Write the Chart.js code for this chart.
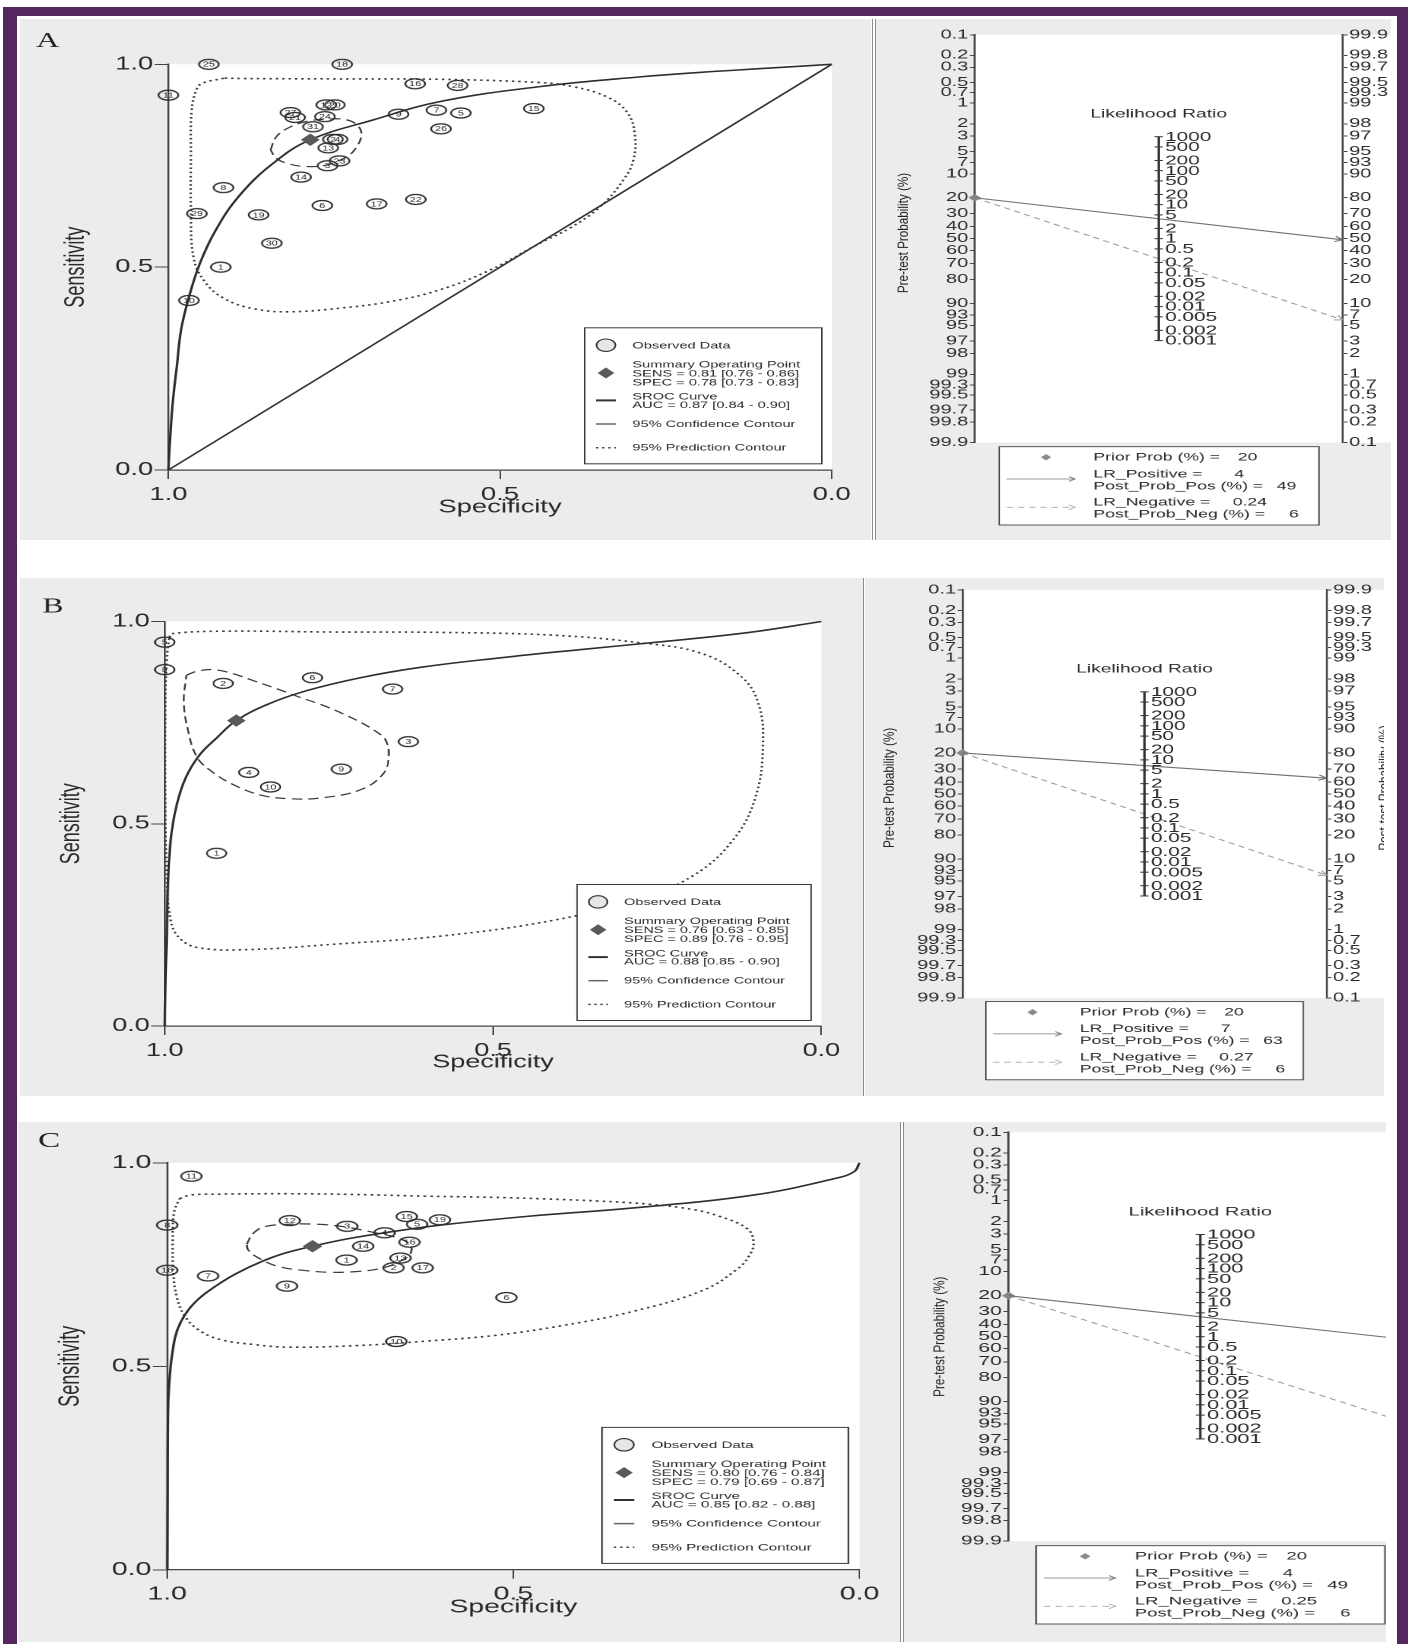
<!DOCTYPE html>
<html>
<head>
<meta charset="utf-8">
<title>SROC curves and Fagan nomograms</title>
<script src="https://cdn.jsdelivr.net/npm/chart.js@4.4.1/dist/chart.umd.min.js"></script>
<style>
html,body{margin:0;padding:0;background:#fff;}
#page{position:relative;width:1408px;height:1644px;overflow:hidden;background:#fff;}
.band{position:absolute;background:#56275f;}
.panel{position:absolute;background:#ebeded;overflow:hidden;}
.panel canvas{position:absolute;left:0;top:0;transform-origin:0 0;}
.sep{position:absolute;width:1px;background:#8c8c8c;}
</style>
</head>
<body>
<div id="page">
  <div class="band" style="left:3px;top:7px;width:1405px;height:9px"></div>
  <div class="band" style="left:3px;top:7px;width:14px;height:1637px"></div>
  <div class="band" style="left:1397px;top:7px;width:11px;height:1637px"></div>
</div>
<script>
// ================= DATA =================
const srocTicks = [0, 0.5, 1];

// Panel A
const aLabels = [1,2,3,4,5,6,7,8,9,10,11,12,13,14,15,16,17,18,19,20,21,22,23,24,25,26,27,28,29,30,31];
const aSpec = [0.921,0.752,0.760,0.745,0.559,0.768,0.596,0.917,0.653,0.969,1.000,0.762,0.759,0.800,0.449,0.628,0.686,0.738,0.864,0.749,0.809,0.627,0.742,0.764,0.939,0.589,0.816,0.564,0.957,0.844,0.782];
const aSens = [0.500,0.815,0.750,0.815,0.880,0.652,0.887,0.696,0.877,0.418,0.924,0.900,0.794,0.722,0.891,0.952,0.656,1.000,0.629,0.900,0.869,0.667,0.762,0.871,1.000,0.841,0.881,0.948,0.632,0.559,0.846];
const aSummary = [0.786, 0.814];
const aCurveSpec = [1.0,0.997,0.993,0.987,0.981,0.970,0.953,0.928,0.892,0.842,0.786,0.691,0.591,0.440,0.289,0.199,0.100,0.0];
const aCurveSens = [0.0,0.087,0.173,0.259,0.344,0.420,0.507,0.593,0.678,0.756,0.814,0.863,0.908,0.945,0.969,0.980,0.990,1.0];
const aConfSpec = [0.846,0.837,0.817,0.792,0.761,0.731,0.714,0.709,0.716,0.731,0.761,0.792,0.817,0.837,0.846];
const aConfSens = [0.789,0.822,0.845,0.859,0.865,0.863,0.848,0.826,0.797,0.772,0.752,0.748,0.754,0.768,0.789];
const aPredSpec = [0.915,0.892,0.750,0.591,0.440,0.390,0.339,0.309,0.297,0.299,0.314,0.349,0.395,0.440,0.515,0.591,0.666,0.741,0.817,0.870,0.915,0.945,0.962,0.966,0.966,0.965,0.958,0.949,0.915];
const aPredSens = [0.966,0.965,0.964,0.963,0.955,0.945,0.920,0.883,0.830,0.764,0.715,0.649,0.596,0.559,0.493,0.444,0.415,0.399,0.390,0.397,0.422,0.464,0.524,0.645,0.773,0.884,0.936,0.953,0.966];
const aDiagSpec = [1, 0];
const aDiagSens = [0, 1];
const aLegend = ['SENS = 0.81 [0.76 - 0.86]', 'SPEC = 0.78 [0.73 - 0.83]', 'AUC = 0.87 [0.84 - 0.90]'];

// Panel B
const bLabels = [1,2,3,4,5,6,7,8,9,10];
const bSpec = [0.921,0.911,0.629,0.872,1.000,0.775,0.653,1.000,0.731,0.839];
const bSens = [0.427,0.847,0.703,0.627,0.949,0.861,0.833,0.881,0.635,0.591];
const bSummary = [0.891, 0.755];
const bCurveSpec = [1.0,0.999,0.997,0.995,0.991,0.982,0.968,0.947,0.921,0.891,0.845,0.786,0.702,0.609,0.490,0.364,0.237,0.110,0.0];
const bCurveSens = [0.0,0.090,0.219,0.348,0.459,0.545,0.614,0.670,0.712,0.755,0.794,0.828,0.861,0.887,0.910,0.931,0.951,0.973,1.0];
const bConfSpec = [0.967,0.951,0.926,0.896,0.862,0.828,0.795,0.761,0.730,0.702,0.680,0.664,0.659,0.668,0.702,0.761,0.811,0.854,0.896,0.930,0.951,0.965,0.971,0.967];
const bConfSens = [0.867,0.877,0.881,0.871,0.852,0.833,0.813,0.794,0.773,0.751,0.730,0.708,0.665,0.622,0.584,0.564,0.562,0.571,0.597,0.631,0.665,0.734,0.803,0.867];
const bPredSpec = [0.993,0.989,0.913,0.744,0.575,0.406,0.279,0.186,0.127,0.097,0.089,0.101,0.135,0.194,0.279,0.406,0.575,0.744,0.871,0.947,0.976,0.991,0.997,0.999,0.999,0.997,0.993];
const bPredSens = [0.961,0.970,0.976,0.974,0.973,0.966,0.948,0.923,0.871,0.803,0.691,0.562,0.459,0.373,0.313,0.262,0.223,0.202,0.189,0.193,0.215,0.262,0.391,0.562,0.777,0.906,0.961];
const bLegend = ['SENS = 0.76 [0.63 - 0.85]', 'SPEC = 0.89 [0.76 - 0.95]', 'AUC = 0.88 [0.85 - 0.90]'];

// Panel C
const cLabels = [1,2,3,4,5,6,7,8,9,10,11,12,13,14,15,16,17,18,19];
const cSpec = [0.741,0.673,0.740,0.686,0.639,0.510,0.941,1.000,0.827,0.669,0.965,0.823,0.663,0.717,0.654,0.650,0.631,1.000,0.606];
const cSens = [0.761,0.742,0.844,0.828,0.849,0.669,0.722,0.847,0.697,0.561,0.967,0.858,0.766,0.795,0.868,0.805,0.742,0.736,0.860];
const cSummary = [0.790, 0.795];
const cCurveSpec = [1.0,0.9995,0.999,0.997,0.993,0.986,0.973,0.955,0.930,0.900,0.864,0.830,0.790,0.740,0.686,0.605,0.476,0.327,0.152,0.034,0.008,0.0];
const cCurveSens = [0.0,0.200,0.377,0.460,0.527,0.586,0.630,0.665,0.697,0.728,0.757,0.778,0.795,0.813,0.828,0.847,0.869,0.889,0.921,0.962,0.978,1.0];
const cConfSpec = [0.885,0.876,0.859,0.824,0.784,0.745,0.705,0.670,0.650,0.648,0.660,0.690,0.725,0.764,0.799,0.839,0.869,0.883,0.885];
const cConfSens = [0.800,0.826,0.843,0.849,0.849,0.843,0.830,0.817,0.800,0.779,0.761,0.741,0.733,0.731,0.735,0.745,0.767,0.786,0.800];
const cPredSpec = [0.982,0.965,0.924,0.825,0.725,0.626,0.526,0.450,0.377,0.302,0.240,0.203,0.163,0.153,0.160,0.178,0.227,0.327,0.426,0.526,0.625,0.725,0.824,0.872,0.924,0.955,0.975,0.986,0.991,0.992,0.990,0.982];
const cPredSens = [0.912,0.921,0.923,0.924,0.922,0.918,0.915,0.911,0.906,0.898,0.885,0.869,0.839,0.805,0.770,0.737,0.686,0.635,0.601,0.576,0.562,0.551,0.547,0.553,0.566,0.590,0.625,0.670,0.728,0.812,0.879,0.912];
const cLegend = ['SENS = 0.80 [0.76 - 0.84]', 'SPEC = 0.79 [0.69 - 0.87]', 'AUC = 0.85 [0.82 - 0.88]'];

// Fagan nomograms (A, B, C)
const pretestTicks = [0.1,0.2,0.3,0.5,0.7,1,2,3,5,7,10,20,30,40,50,60,70,80,90,93,95,97,98,99,99.3,99.5,99.7,99.8,99.9];
const posttestTicks = [99.9,99.8,99.7,99.5,99.3,99,98,97,95,93,90,80,70,60,50,40,30,20,10,7,5,3,2,1,0.7,0.5,0.3,0.2,0.1];
const lrTicks = [1000,500,200,100,50,20,10,5,2,1,0.5,0.2,0.1,0.05,0.02,0.01,0.005,0.002,0.001];
const priorProb = [20, 20, 20];
const lrPositive = [4, 7, 4];
const postProbPos = [49, 63, 49];
const lrNegative = [0.24, 0.27, 0.25];
const postProbNeg = [6, 6, 6];

// ================= RENDERING =================
const FONT = '"Liberation Sans", Arial, Helvetica, sans-serif';
Chart.defaults.font.family = FONT;
Chart.defaults.color = '#333';
const logit = p => Math.log(p / (1 - p));
const LMAX = logit(0.999);

const page = document.getElementById('page');
function addPanel(P) {
  const d = document.createElement('div');
  d.className = 'panel';
  Object.assign(d.style, {left: P.x + 'px', top: P.y + 'px', width: P.w + 'px', height: P.h + 'px'});
  const c = document.createElement('canvas');
  c.width = P.cw; c.height = P.h;
  c.style.transform = 'scaleX(' + P.s + ')';
  d.appendChild(c);
  page.appendChild(d);
  return c;
}
function addSep(x, y, h) {
  const d = document.createElement('div');
  d.className = 'sep';
  Object.assign(d.style, {left: x + 'px', top: y + 'px', height: h + 'px'});
  page.appendChild(d);
}

// hollow elliptical study marker, drawn at 2x for a sharp image
const mc = document.createElement('canvas');
mc.width = 30; mc.height = 24;
(function () {
  const g = mc.getContext('2d');
  g.strokeStyle = '#2a2a2a'; g.lineWidth = 2.4;
  g.beginPath(); g.ellipse(15, 12, 13, 10, 0, 0, 2 * Math.PI); g.stroke();
})();
const marker = new Image(15, 12);

function srocLegend(ctx, x, y, t) {
  const w = 156, h = 136;
  ctx.save();
  ctx.fillStyle = '#fff'; ctx.fillRect(x, y, w, h);
  ctx.strokeStyle = '#3a3a3a'; ctx.lineWidth = 1; ctx.strokeRect(x, y, w, h);
  const mx = x + 14, tx = x + 31.4;
  ctx.beginPath(); ctx.arc(mx, y + 17.4, 6.2, 0, 2 * Math.PI);
  ctx.fillStyle = '#e6e6e6'; ctx.fill(); ctx.strokeStyle = '#333'; ctx.lineWidth = 1.1; ctx.stroke();
  const dy = y + 45.2;
  ctx.beginPath(); ctx.moveTo(mx, dy - 5.5); ctx.lineTo(mx + 5.5, dy); ctx.lineTo(mx, dy + 5.5); ctx.lineTo(mx - 5.5, dy); ctx.closePath();
  ctx.fillStyle = '#5a5a5a'; ctx.fill();
  ctx.lineWidth = 2; ctx.strokeStyle = '#333';
  ctx.beginPath(); ctx.moveTo(mx - 6.5, y + 72.6); ctx.lineTo(mx + 6.5, y + 72.6); ctx.stroke();
  ctx.lineWidth = 1.5; ctx.strokeStyle = '#666';
  ctx.beginPath(); ctx.moveTo(mx - 6.5, y + 96.2); ctx.lineTo(mx + 6.5, y + 96.2); ctx.stroke();
  ctx.setLineDash([1.5, 2.5]); ctx.strokeStyle = '#444';
  ctx.beginPath(); ctx.moveTo(mx - 6.5, y + 119.9); ctx.lineTo(mx + 6.5, y + 119.9); ctx.stroke();
  ctx.setLineDash([]);
  ctx.font = '9.6px ' + FONT; ctx.fillStyle = '#2a2a2a'; ctx.textAlign = 'left'; ctx.textBaseline = 'middle';
  ctx.fillText('Observed Data', tx, y + 17.9);
  ctx.fillText('Summary Operating Point', tx, y + 36.8);
  ctx.fillText(t[0], tx, y + 45.8);
  ctx.fillText(t[1], tx, y + 54.8);
  ctx.fillText('SROC Curve', tx, y + 69.1);
  ctx.fillText(t[2], tx, y + 77.5);
  ctx.fillText('95% Confidence Contour', tx, y + 96.5);
  ctx.fillText('95% Prediction Contour', tx, y + 120.2);
  ctx.restore();
}

const srocPlugin = {
  id: 'sroc',
  beforeDraw(chart) {
    const a = chart.chartArea, ctx = chart.ctx;
    ctx.save(); ctx.fillStyle = '#fff'; ctx.fillRect(a.left, a.top, a.right - a.left, a.bottom - a.top); ctx.restore();
  },
  afterDatasetsDraw(chart, args, o) {
    const ctx = chart.ctx, meta = chart.getDatasetMeta(0);
    ctx.save();
    ctx.font = '7px ' + FONT; ctx.fillStyle = '#2a2a2a'; ctx.textAlign = 'center'; ctx.textBaseline = 'middle';
    meta.data.forEach((el, i) => ctx.fillText(String(o.labels[i]), el.x, el.y + 0.5));
    ctx.restore();
  },
  afterDraw(chart, args, o) {
    const ctx = chart.ctx;
    srocLegend(ctx, o.legend[0], o.legend[1], o.legendText);
    ctx.save();
    ctx.font = '21px "Liberation Serif", "Times New Roman", serif';
    ctx.fillStyle = '#222'; ctx.textAlign = 'center'; ctx.textBaseline = 'middle';
    ctx.fillText(o.letter[0], o.letter[1], o.letter[2]);
    ctx.restore();
  }
};

function pts(xs, ys) { return xs.map((v, i) => ({x: v, y: ys[i]})); }

function srocChart(P, D) {
  const canvas = addPanel(P);
  const ds = [
    {data: pts(D.spec, D.sens), pointStyle: marker, pointRadius: 6, showLine: false, clip: false},
    {data: [{x: D.summary[0], y: D.summary[1]}], pointStyle: 'rectRot', pointRadius: 5.5, backgroundColor: '#5a5a5a', borderColor: '#5a5a5a', borderWidth: 1, clip: false},
    {data: pts(D.curveSpec, D.curveSens), showLine: true, pointRadius: 0, borderColor: '#2e2e2e', borderWidth: 1.6, tension: 0.4, clip: false},
    {data: pts(D.confSpec, D.confSens), showLine: true, pointRadius: 0, borderColor: '#3c3c3c', borderWidth: 1.2, borderDash: [7, 4], tension: 0.4, clip: false},
    {data: pts(D.predSpec, D.predSens), showLine: true, pointRadius: 0, borderColor: '#3c3c3c', borderWidth: 1.6, borderDash: [1.6, 2.6], tension: 0.4, clip: false}
  ];
  if (D.diagSpec) ds.push({data: pts(D.diagSpec, D.diagSens), showLine: true, pointRadius: 0, borderColor: '#333', borderWidth: 1.4, clip: false});
  const axisCommon = {
    type: 'linear', min: 0, max: 1,
    afterBuildTicks: s => { s.ticks = srocTicks.map(v => ({value: v})); },
    grid: {display: true, drawOnChartArea: false, drawTicks: true, tickLength: 9, color: '#444', lineWidth: 1},
    border: {display: true, color: '#444', width: 1.2}
  };
  new Chart(canvas, {
    type: 'scatter',
    data: {datasets: ds},
    options: {
      responsive: false, animation: false, devicePixelRatio: 2, events: [],
      layout: {padding: P.pad},
      plugins: {legend: {display: false}, tooltip: {enabled: false},
        sroc: {labels: D.labels, legend: P.legend, legendText: D.legendText, letter: [P.letterText, P.letter[0], P.letter[1]]}},
      scales: {
        x: Object.assign({}, axisCommon, {
          reverse: true, position: 'bottom',
          ticks: {callback: v => Number(v).toFixed(1), font: {size: 18}, color: '#2a2a2a', padding: 5, maxRotation: 0, autoSkip: false},
          title: {display: true, text: 'Specificity', font: {size: 18}, color: '#2a2a2a', padding: 0},
          afterFit: s => { s.height = P.xH; }
        }),
        y: Object.assign({}, axisCommon, {
          position: 'left',
          ticks: {callback: v => Number(v).toFixed(1), font: {size: 18}, color: '#2a2a2a', padding: 1, autoSkip: false},
          title: {display: true, text: 'Sensitivity', font: {size: 18}, color: '#2a2a2a', padding: 0},
          afterFit: s => { s.width = P.yW; }
        })
      }
    },
    plugins: [srocPlugin]
  });
}

function rotatedText(ctx, text, x, y, size, stretch) {
  ctx.save();
  ctx.translate(x, y); ctx.rotate(-Math.PI / 2); ctx.scale(stretch, 1);
  ctx.font = size + 'px ' + FONT; ctx.textAlign = 'center'; ctx.textBaseline = 'middle'; ctx.fillStyle = '#222';
  ctx.fillText(text, 0, 0);
  ctx.restore();
}
function chevron(ctx, x, y, ang, len, spread) {
  ctx.beginPath();
  ctx.moveTo(x - len * Math.cos(ang - spread), y - len * Math.sin(ang - spread));
  ctx.lineTo(x, y);
  ctx.lineTo(x - len * Math.cos(ang + spread), y - len * Math.sin(ang + spread));
  ctx.stroke();
}

const faganPlugin = {
  id: 'fagan',
  beforeDraw(chart) {
    const a = chart.chartArea, ctx = chart.ctx;
    ctx.save(); ctx.fillStyle = '#fff'; ctx.fillRect(a.left, a.top, chart.width - a.left, a.bottom - a.top); ctx.restore();
  },
  afterDatasetsDraw(chart, args, o) {
    if (o.noArrows) return;
    const ctx = chart.ctx;
    [0, 1].forEach(i => {
      const m = chart.getDatasetMeta(i), p0 = m.data[0], p1 = m.data[1];
      const ang = Math.atan2(p1.y - p0.y, p1.x - p0.x);
      ctx.save(); ctx.strokeStyle = chart.data.datasets[i].borderColor; ctx.lineWidth = 1; ctx.setLineDash([]);
      chevron(ctx, p1.x, p1.y, ang, 5.5, 0.5);
      ctx.restore();
    });
  },
  afterDraw(chart, args, o) {
    const ctx = chart.ctx, ys = chart.scales.y, xs = chart.scales.x;
    const cx = xs.getPixelForValue(0.5);
    const yTop = ys.getPixelForValue(Math.log(lrTicks[0]) / 2);
    const yBot = ys.getPixelForValue(Math.log(lrTicks[lrTicks.length - 1]) / 2);
    ctx.save();
    ctx.strokeStyle = '#333'; ctx.lineWidth = 1.5;
    ctx.beginPath(); ctx.moveTo(cx, yTop); ctx.lineTo(cx, yBot); ctx.stroke();
    ctx.lineWidth = 1;
    ctx.font = '13px ' + FONT; ctx.fillStyle = '#2a2a2a'; ctx.textAlign = 'left'; ctx.textBaseline = 'middle';
    lrTicks.forEach(v => {
      const y = ys.getPixelForValue(Math.log(v) / 2);
      ctx.beginPath(); ctx.moveTo(cx - 2.6, y); ctx.lineTo(cx + 2.6, y); ctx.stroke();
      ctx.fillText(String(v), cx + 4, y + 0.5);
    });
    ctx.font = '12px ' + FONT;
    ctx.textAlign = 'center';
    ctx.fillText('Likelihood Ratio', cx, yTop - 22.5);
    ctx.restore();
    rotatedText(ctx, 'Pre-test Probability (%)', o.preTitle[0], o.preTitle[1], 9, 1.3);
    if (o.postTitle) rotatedText(ctx, 'Post-test Probability (%)', o.postTitle[0], o.postTitle[1], 9, 1.3);
    // legend
    const [lx, ly, lw, lh] = o.legend;
    const k = o.k;
    ctx.save();
    ctx.fillStyle = '#fff'; ctx.fillRect(lx, ly, lw, lh);
    ctx.strokeStyle = '#444'; ctx.lineWidth = 0.9; ctx.strokeRect(lx, ly, lw, lh);
    const dx = lx + 29.2, dy = ly + 10.6;
    ctx.beginPath(); ctx.moveTo(dx, dy - 3.2); ctx.lineTo(dx + 3.2, dy); ctx.lineTo(dx, dy + 3.2); ctx.lineTo(dx - 3.2, dy); ctx.closePath();
    ctx.fillStyle = '#8a8a8a'; ctx.fill();
    ctx.lineWidth = 0.8; ctx.strokeStyle = '#777';
    ctx.beginPath(); ctx.moveTo(lx + 4.6, ly + 32.3); ctx.lineTo(lx + 47.3, ly + 32.3); ctx.stroke();
    chevron(ctx, lx + 47.3, ly + 32.3, 0, 4.5, 0.55);
    ctx.strokeStyle = '#aaa'; ctx.setLineDash([4, 3]);
    ctx.beginPath(); ctx.moveTo(lx + 4.6, ly + 60.6); ctx.lineTo(lx + 47.3, ly + 60.6); ctx.stroke();
    ctx.setLineDash([]);
    chevron(ctx, lx + 47.3, ly + 60.6, 0, 4.5, 0.55);
    ctx.font = '11px ' + FONT; ctx.fillStyle = '#2a2a2a'; ctx.textAlign = 'left'; ctx.textBaseline = 'middle';
    const tx = lx + 58.8;
    ctx.fillText('Prior Prob (%) =', tx, ly + 10.9); ctx.fillText(String(priorProb[k]), lx + 149, ly + 10.9);
    ctx.fillText('LR_Positive =', tx, ly + 27.6); ctx.fillText(String(lrPositive[k]), lx + 146.9, ly + 27.6);
    ctx.fillText('Post_Prob_Pos (%) =', tx, ly + 39.6); ctx.fillText(String(postProbPos[k]), lx + 173.4, ly + 39.6);
    ctx.fillText('LR_Negative =', tx, ly + 55.9); ctx.fillText(String(lrNegative[k]), lx + 145.9, ly + 55.9);
    ctx.fillText('Post_Prob_Neg (%) =', tx, ly + 67.9); ctx.fillText(String(postProbNeg[k]), lx + 181, ly + 67.9);
    ctx.restore();
  }
};

function faganChart(P, k) {
  const canvas = addPanel(P);
  const uPre = -logit(priorProb[k] / 100);
  const uPos = logit(postProbPos[k] / 100);
  const uNeg = logit(postProbNeg[k] / 100);
  const axis = (ticksArr, sign, pos, width) => ({
    type: 'linear', position: pos, min: -LMAX, max: LMAX,
    afterBuildTicks: s => { s.ticks = ticksArr.map(p => ({value: sign * logit(p / 100)})); },
    ticks: {autoSkip: false, callback: (v, i) => String(ticksArr[i]), font: {size: 12.5}, color: '#2a2a2a', padding: 1},
    grid: {display: true, drawOnChartArea: false, drawTicks: true, tickLength: 3, color: '#444', lineWidth: 1},
    border: {display: true, color: '#444', width: 1.3},
    afterFit: s => { s.width = width; }
  });
  new Chart(canvas, {
    type: 'scatter',
    data: {datasets: [
      {data: [{x: 0, y: uPre}, {x: 1, y: uPos}], showLine: true, pointRadius: 0, borderColor: '#707070', borderWidth: 1.1, clip: false},
      {data: [{x: 0, y: uPre}, {x: 1, y: uNeg}], showLine: true, pointRadius: 0, borderColor: '#9c9c9c', borderWidth: 1, borderDash: [4, 3], clip: false},
      {data: [{x: 0, y: uPre}], pointStyle: 'rectRot', pointRadius: 3.2, backgroundColor: '#888', borderColor: '#888', borderWidth: 1, clip: false}
    ]},
    options: {
      responsive: false, animation: false, devicePixelRatio: 2, events: [],
      layout: {padding: {left: 0, right: 0, top: P.T, bottom: P.h - P.B}},
      plugins: {legend: {display: false}, tooltip: {enabled: false},
        fagan: {k: k, preTitle: P.preTitle, postTitle: P.postTitle, legend: P.legend, noArrows: !!P.noArrows}},
      scales: {
        x: {type: 'linear', display: false, min: 0, max: 1},
        y: axis(pretestTicks, -1, 'left', P.L),
        y2: axis(posttestTicks, 1, 'right', P.cw - P.R)
      }
    },
    plugins: [faganPlugin]
  });
}

// ---------- layout ----------
const A1 = {x: 20, y: 19, w: 851, h: 521, s: 1.52, cw: 560, pad: {left: 26.2, right: 26, top: 45.3, bottom: 21.7}, yW: 71.4, xH: 48.3, legend: [371.5, 308.8], letter: [18.2, 22.7], letterText: 'A'};
const B1 = {x: 20, y: 578, w: 843, h: 518, s: 1.50, cw: 562, pad: {left: 23.9, right: 27.8, top: 43.5, bottom: 22.7}, yW: 72.6, xH: 47.3, legend: [371.4, 306.5], letter: [22, 28.8], letterText: 'B'};
const C1 = {x: 18, y: 1122, w: 882, h: 520, s: 1.58, cw: 558, pad: {left: 22.6, right: 25.4, top: 40.8, bottom: 23.9}, yW: 71.8, xH: 48.3, legend: [369.6, 305.4], letter: [19.8, 19.5], letterText: 'C'};
const A2 = {x: 876, y: 19, w: 515, h: 521, s: 1.6, cw: 322, L: 61.7, R: 291.7, T: 15.8, B: 423.5, preTitle: [17.5, 214], legend: [77.1, 427.7, 199.8, 78.3]};
const B2 = {x: 865, y: 578, w: 519, h: 518, s: 1.6, cw: 335, L: 60.9, R: 288.5, T: 11.8, B: 420, preTitle: [15.4, 209.9], postTitle: [325, 209.9], legend: [75.5, 423.6, 198.4, 78.2]};
const C2 = {x: 904, y: 1122, w: 482, h: 520, s: 1.68, cw: 320, L: 62.2, R: 290.5, T: 10.3, B: 419.1, preTitle: [21.7, 214.7], legend: [78.6, 423.7, 207.7, 78.3], noArrows: true};

function buildAll() {
  srocChart(A1, {labels: aLabels, spec: aSpec, sens: aSens, summary: aSummary, curveSpec: aCurveSpec, curveSens: aCurveSens,
    confSpec: aConfSpec, confSens: aConfSens, predSpec: aPredSpec, predSens: aPredSens, diagSpec: aDiagSpec, diagSens: aDiagSens, legendText: aLegend});
  srocChart(B1, {labels: bLabels, spec: bSpec, sens: bSens, summary: bSummary, curveSpec: bCurveSpec, curveSens: bCurveSens,
    confSpec: bConfSpec, confSens: bConfSens, predSpec: bPredSpec, predSens: bPredSens, legendText: bLegend});
  srocChart(C1, {labels: cLabels, spec: cSpec, sens: cSens, summary: cSummary, curveSpec: cCurveSpec, curveSens: cCurveSens,
    confSpec: cConfSpec, confSens: cConfSens, predSpec: cPredSpec, predSens: cPredSens, legendText: cLegend});
  faganChart(A2, 0);
  faganChart(B2, 1);
  faganChart(C2, 2);
  addSep(872, 19, 521); addSep(875, 19, 521);
  addSep(863, 578, 518);
  addSep(900, 1122, 520); addSep(903, 1122, 520);
}
marker.onload = buildAll;
marker.src = mc.toDataURL();
</script>
</body>
</html>
